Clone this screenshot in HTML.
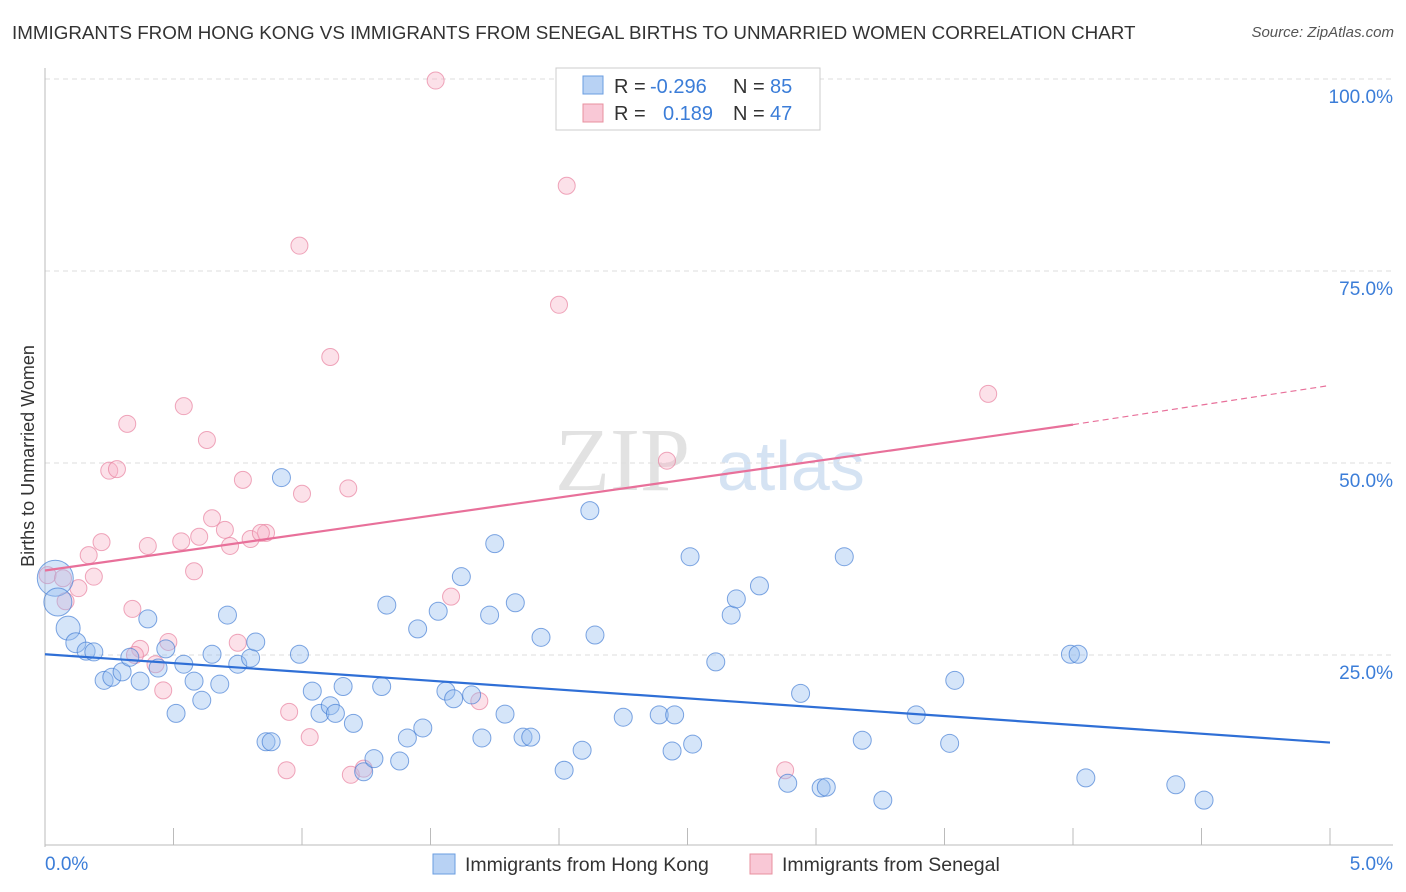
<!DOCTYPE html>
<html><head><meta charset="utf-8"><style>
body{margin:0;background:#fff;font-family:"Liberation Sans",sans-serif}
#wrap{position:relative;width:1406px;height:892px;overflow:hidden}
.t{position:absolute;white-space:nowrap}
</style></head><body>
<div id="wrap">
<div class="t" style="left:12px;top:22px;font-size:18.8px;color:#333">IMMIGRANTS FROM HONG KONG VS IMMIGRANTS FROM SENEGAL BIRTHS TO UNMARRIED WOMEN CORRELATION CHART</div>
<div class="t" style="right:12px;top:24px;font-size:15px;color:#555;font-style:italic">Source: ZipAtlas.com</div>
<svg id="svg" width="1406" height="892" style="position:absolute;left:0;top:0"></svg>
</div>
<script>
const xTicks=[0,0.5,1,1.5,2,2.5,3,3.5,4,4.5,5];
const yTicks=[25,50,75,100];
const yTickLabels=["25.0%","50.0%","75.0%","100.0%"];
const xLabels=["0.0%","5.0%"];
const hkX=[0.04,0.05,0.09,0.12,0.16,0.19,0.23,0.26,0.30,0.33,0.37,0.40,0.44,0.47,0.51,0.54,0.58,0.61,0.65,0.68,0.71,0.75,0.80,0.82,0.86,0.88,0.92,0.99,1.04,1.07,1.11,1.13,1.16,1.20,1.24,1.28,1.31,1.33,1.38,1.41,1.45,1.47,1.53,1.56,1.59,1.62,1.66,1.70,1.73,1.75,1.79,1.83,1.86,1.89,1.93,2.02,2.09,2.12,2.14,2.25,2.39,2.44,2.45,2.51,2.52,2.61,2.67,2.69,2.78,2.89,2.94,3.02,3.04,3.11,3.18,3.26,3.39,3.52,3.54,3.99,4.02,4.05,4.40,4.51];
const hkY=[35.0,31.9,28.5,26.6,25.5,25.4,21.7,22.1,22.8,24.7,21.6,29.7,23.3,25.8,17.4,23.8,21.6,19.1,25.1,21.2,30.2,23.8,24.6,26.7,13.7,13.7,48.1,25.1,20.3,17.4,18.4,17.4,20.9,16.1,9.8,11.5,20.9,31.5,11.2,14.2,28.4,15.5,30.7,20.3,19.3,35.2,19.8,14.2,30.2,39.5,17.3,31.8,14.3,14.3,27.3,10.0,12.6,43.8,27.6,16.9,17.2,12.5,17.2,37.8,13.4,24.1,30.2,32.3,34.0,8.3,20.0,7.7,7.8,37.8,13.9,6.1,17.2,13.5,21.7,25.1,25.1,9.0,8.1,6.1];
const snX=[1.52,2.03,0.99,2.00,1.11,3.67,0.32,0.54,0.63,0.25,0.28,2.42,0.77,1.18,1.00,0.22,0.60,0.70,0.65,0.72,0.80,0.86,0.84,0.17,0.40,0.53,0.01,0.07,0.19,0.13,0.08,0.58,0.34,1.58,0.75,0.48,0.37,0.43,0.46,0.95,1.03,0.94,1.19,1.24,2.88,1.69,0.35];
const snY=[99.8,86.1,78.3,70.6,63.8,59.0,55.1,57.4,53.0,49.0,49.2,50.3,47.8,46.7,46.0,39.7,40.4,41.3,42.8,39.2,40.1,40.9,40.9,38.0,39.2,39.8,35.4,35.0,35.2,33.7,32.0,35.9,31.0,32.6,26.6,26.7,25.8,23.8,20.4,17.6,14.3,10.0,9.4,10.2,10.0,19.0,25.0];
const hkSize=[18,14,12,10,9,9,9,9,9,9,9,9,9,9,9,9,9,9,9,9,9,9,9,9,9,9,9,9,9,9,9,9,9,9,9,9,9,9,9,9,9,9,9,9,9,9,9,9,9,9,9,9,9,9,9,9,9,9,9,9,9,9,9,9,9,9,9,9,9,9,9,9,9,9,9,9,9,9,9,9,9,9,9,9];
const hkLine=[25.1,13.6];
const snLine=[36.0,55.0,60.1];
const X0=45,X1=1330,Y0=847,Y100=79;
const sx=v=>X0+(X1-X0)*v/5, sy=v=>Y0-(Y0-Y100)*v/100;
const svg=document.getElementById('svg');const NS='http://www.w3.org/2000/svg';
function mk(tag,attrs,name){const e=document.createElementNS(NS,tag);for(const k in attrs)e.setAttribute(k,attrs[k]);


svg.appendChild(e);return e;}
let w=mk('text',{x:555,y:490,'font-size':90,fill:'#e2e2e2','font-family':'Liberation Serif'},'watermark-zip');w.textContent='ZIP';
w=mk('text',{x:717,y:490,'font-size':70,fill:'#d5e3f3','font-family':'Liberation Sans'},'watermark-atlas');w.textContent='atlas';
yTicks.forEach((t,i)=>{mk('line',{x1:X0,x2:1393,y1:sy(t),y2:sy(t),stroke:'#ddd','stroke-dasharray':'5,4'},'grid-line');
const l=mk('text',{x:1393,y:sy(t)+24,'text-anchor':'end','font-size':19,fill:'#3b7dd8'},'y-tick-label');l.textContent=yTickLabels[i];});
mk('line',{x1:X0,x2:1393,y1:Y100,y2:Y100,stroke:'#ddd','stroke-dasharray':'5,4'},'grid-line-top');
mk('line',{x1:X0,x2:X0,y1:68,y2:Y0,stroke:'#bbb'},'y-axis');
mk('line',{x1:X0,x2:1393,y1:845,y2:845,stroke:'#bbb'},'x-axis');
xTicks.forEach(t=>mk('line',{x1:sx(t),x2:sx(t),y1:828,y2:845,stroke:'#bbb'},'x-tick'));
let tl=mk('text',{x:45,y:870,'font-size':19,fill:'#3b7dd8'},'x-tick-label');tl.textContent=xLabels[0];
tl=mk('text',{x:1393,y:870,'font-size':19,fill:'#3b7dd8','text-anchor':'end'},'x-tick-label');tl.textContent=xLabels[1];
tl=mk('text',{x:34,y:456,'font-size':18,fill:'#333','text-anchor':'middle',transform:'rotate(-90 34 456)'},'y-axis-title');tl.textContent='Births to Unmarried Women';
snX.forEach((x,i)=>mk('circle',{cx:sx(x),cy:sy(snY[i]),r:8.5,fill:'rgba(248,180,200,0.4)',stroke:'rgba(232,130,160,0.7)','stroke-width':1},'senegal-point'));
hkX.forEach((x,i)=>mk('circle',{cx:sx(x),cy:sy(hkY[i]),r:hkSize[i],fill:'rgba(150,190,240,0.4)',stroke:'rgba(60,120,210,0.65)','stroke-width':1},'hong-kong-point'));
mk('line',{x1:sx(0),y1:sy(hkLine[0]),x2:sx(5),y2:sy(hkLine[1]),stroke:'#2f6fd6','stroke-width':2.2},'hong-kong-trend');
mk('line',{x1:sx(0),y1:sy(snLine[0]),x2:sx(4),y2:sy(snLine[1]),stroke:'#e8709a','stroke-width':2.2},'senegal-trend');
mk('line',{x1:sx(4),y1:sy(snLine[1]),x2:sx(5),y2:sy(snLine[2]),stroke:'#e8709a','stroke-width':1.2,'stroke-dasharray':'6,4'},'senegal-trend-ext');
mk('rect',{x:556,y:68,width:264,height:62,fill:'#fff',stroke:'#ccc'},'legend-box');
mk('rect',{x:583,y:76,width:20,height:18,fill:'#b8d2f4',stroke:'#6a9de0'},'legend-swatch-hk');
mk('rect',{x:583,y:104,width:20,height:18,fill:'#f9c8d6',stroke:'#e8909f'},'legend-swatch-sn');
function lt(x,y,s,c,n){const e=mk('text',{x:x,y:y,'font-size':20,fill:c},n);e.textContent=s;}
lt(614,93,'R =','#333','legend-r-label');lt(650,93,'-0.296','#3b7dd8','legend-r-hk');lt(733,93,'N =','#333','legend-n-label');lt(770,93,'85','#3b7dd8','legend-n-hk');
lt(614,120,'R =','#333','legend-r-label');lt(663,120,'0.189','#3b7dd8','legend-r-sn');lt(733,120,'N =','#333','legend-n-label');lt(770,120,'47','#3b7dd8','legend-n-sn');
mk('rect',{x:433,y:854,width:22,height:20,fill:'#b8d2f4',stroke:'#6a9de0'},'bottom-legend-swatch-hk');
mk('rect',{x:750,y:854,width:22,height:20,fill:'#f9c8d6',stroke:'#e8909f'},'bottom-legend-swatch-sn');
let bl=mk('text',{x:465,y:871,'font-size':19.5,fill:'#333'},'bottom-legend-hk');bl.textContent='Immigrants from Hong Kong';
bl=mk('text',{x:782,y:871,'font-size':19.5,fill:'#333'},'bottom-legend-sn');bl.textContent='Immigrants from Senegal';
</script>
</body></html>
